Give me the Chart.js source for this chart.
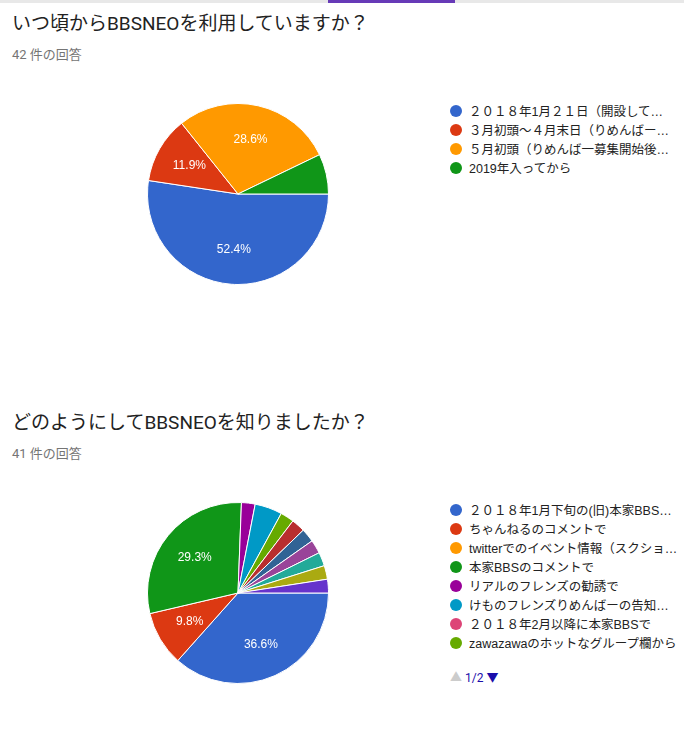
<!DOCTYPE html>
<html><head><meta charset="utf-8">
<script src="https://cdn.jsdelivr.net/npm/chart.js@4/dist/chart.umd.min.js"></script>
<style>
body{margin:0;width:684px;height:740px;background:#fff;font-family:Roboto,"Noto Sans CJK JP",sans-serif;position:relative;overflow:hidden}
.bar{position:absolute;left:0;top:0;width:684px;height:3px;background:#e8e8e8}
.bar i{position:absolute;left:328px;width:127px;height:3px;background:#673ab7}
.t{position:absolute;left:12px;font-size:19px;color:#222}
.s{position:absolute;left:12px;font-size:13px;color:#757575}
canvas{position:absolute}
.lg{position:absolute;left:450px;font-size:12.5px;color:#222;font-family:Arial,"Noto Sans CJK JP",sans-serif}
.lg div{height:19px;white-space:nowrap;display:flex;align-items:center}
.lg span{display:inline-block;width:12px;height:12px;border-radius:50%;margin-right:7px}
.pg{position:absolute;left:450px;top:668px;font-size:12px;color:#1a0dab}
</style></head><body>
<div class="bar"><i></i></div>
<div class="t" style="top:8px">いつ頃からBBSNEOを利用していますか？</div>
<div class="s" style="top:44px">42 件の回答</div>
<canvas id="c1" width="182" height="182" style="left:147px;top:103px"></canvas>
<div class="lg" id="l1" style="top:101px"></div>
<div class="t" style="top:407px">どのようにしてBBSNEOを知りましたか？</div>
<div class="s" style="top:443px">41 件の回答</div>
<canvas id="c2" width="182" height="182" style="left:147px;top:502px"></canvas>
<div class="lg" id="l2" style="top:500px"></div>
<div class="pg"><span style="color:#ccc">▲</span> 1/2 <span style="color:#1a0dab">▼</span></div>
<script>
const colors = ['#3366cc','#dc3912','#ff9900','#109618','#990099','#0099c6','#dd4477','#66aa00','#b82e2e','#316395','#994499','#22aa99','#aaaa11','#6633cc'];

const labels1 = ['２０１８年1月２１日（開設して…','３月初頭～４月末日（りめんばー…','５月初頭（りめんば一募集開始後…','2019年入ってから'];
const values1 = [22, 5, 12, 3];

const labels2 = ['２０１８年1月下旬の(旧)本家BBS…','ちゃんねるのコメントで','twitterでのイベント情報（スクショ…','本家BBSのコメントで','リアルのフレンズの勧誘で','けものフレンズりめんばーの告知…','２０１８年2月以降に本家BBSで','zawazawaのホットなグループ欄から','その他9','その他10','その他11','その他12','その他13','その他14'];
const values2 = [15, 4, 0, 12, 1, 2, 0, 1, 1, 1, 1, 1, 1, 1];

const pctPlugin = {
  id: 'pct',
  afterDatasetsDraw(chart) {
    const ctx = chart.ctx;
    const ds = chart.data.datasets[0].data;
    const total = ds.reduce((a, b) => a + b, 0);
    chart.getDatasetMeta(0).data.forEach((arc, i) => {
      const p = ds[i] / total * 100;
      if (p < 9) return;
      const mid = (arc.startAngle + arc.endAngle) / 2;
      const r = arc.outerRadius * 0.62;
      ctx.save();
      ctx.fillStyle = '#fff';
      ctx.font = '12px Arial';
      ctx.textAlign = 'center';
      ctx.textBaseline = 'middle';
      ctx.fillText(p.toFixed(1) + '%', arc.x + Math.cos(mid) * r, arc.y + Math.sin(mid) * r);
      ctx.restore();
    });
  }
};

function makePie(id, lgId, labels, values) {
  new Chart(document.getElementById(id), {
    type: 'pie',
    data: { labels, datasets: [{ data: values, backgroundColor: colors.slice(0, values.length), borderColor: '#fff', borderWidth: 1 }] },
    options: {
      responsive: false, animation: false, rotation: 90,
      plugins: { legend: { display: false }, tooltip: { enabled: false } }
    },
    plugins: [pctPlugin]
  });
  const lg = document.getElementById(lgId);
  labels.slice(0, 8).forEach((l, i) => {
    const d = document.createElement('div');
    d.innerHTML = '<span style="background:' + colors[i] + '"></span>' + l;
    lg.appendChild(d);
  });
}
makePie('c1', 'l1', labels1, values1);
makePie('c2', 'l2', labels2, values2);
</script>
</body></html>
